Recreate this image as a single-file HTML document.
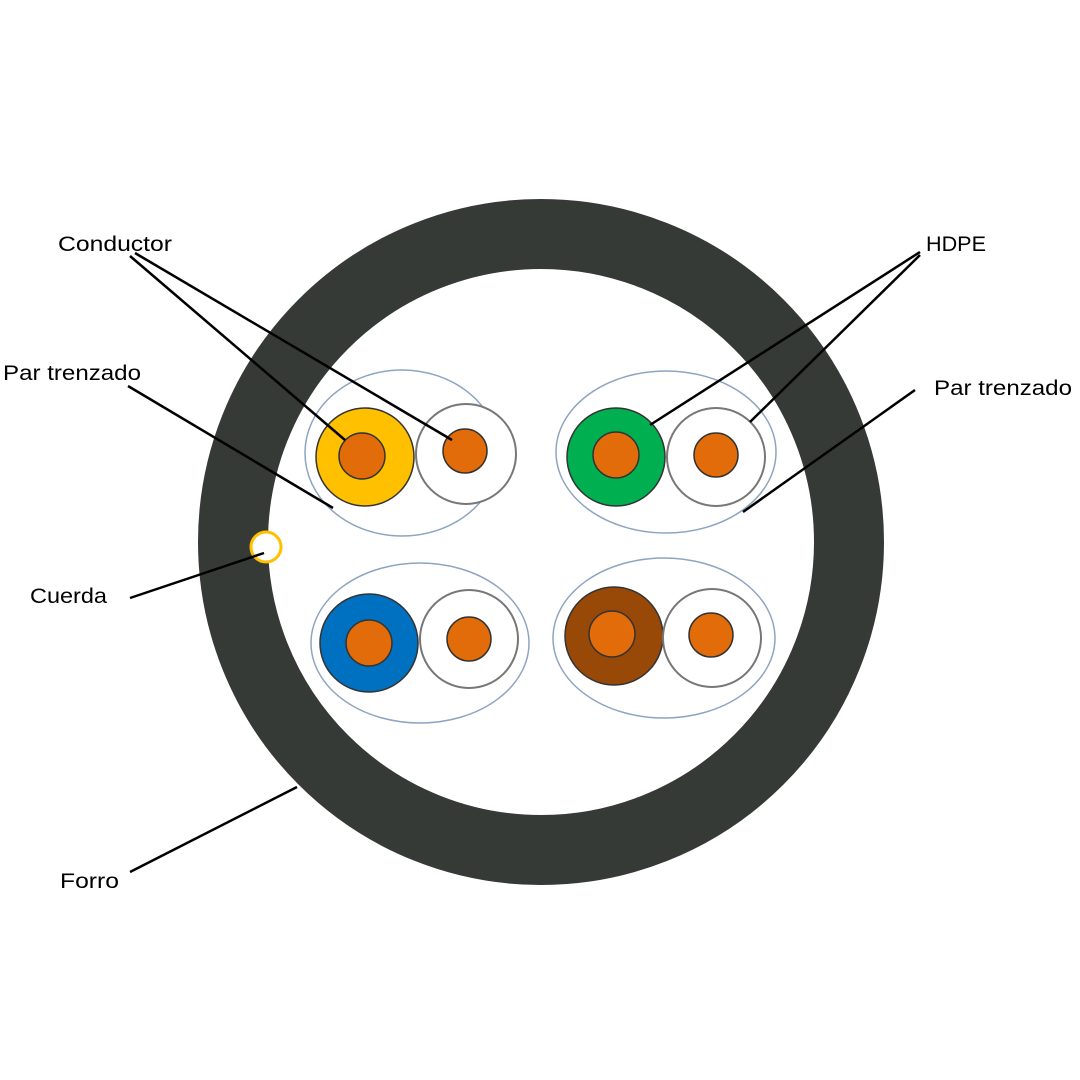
<!DOCTYPE html>
<html><head><meta charset="utf-8"><style>html,body{margin:0;padding:0;background:#fff}svg{display:block}</style></head>
<body>
<svg width="1080" height="1080" viewBox="0 0 1080 1080" xmlns="http://www.w3.org/2000/svg">
<rect width="1080" height="1080" fill="#fff"/>
<circle cx="541" cy="542" r="308" fill="none" stroke="#353a36" stroke-width="70"/>
<g fill="none" stroke="#8ea4c0" stroke-width="1.5">
<ellipse cx="402" cy="453" rx="97" ry="83"/>
<ellipse cx="666" cy="452" rx="110" ry="81"/>
<ellipse cx="420" cy="643" rx="109" ry="80"/>
<ellipse cx="664" cy="638" rx="111" ry="80"/>
</g>
<g stroke="#333" stroke-width="1.5">
<circle cx="365" cy="457" r="49" fill="#ffc000"/>
<circle cx="362" cy="456" r="23" fill="#e36c0a"/>
<circle cx="466" cy="454" r="50" fill="#fff" stroke="#777" stroke-width="2"/>
<circle cx="465" cy="451" r="22" fill="#e36c0a"/>
<circle cx="616" cy="457" r="49" fill="#00b050"/>
<circle cx="616" cy="455" r="23" fill="#e36c0a"/>
<circle cx="716" cy="457" r="49" fill="#fff" stroke="#777" stroke-width="2"/>
<circle cx="716" cy="455" r="22" fill="#e36c0a"/>
<circle cx="369" cy="643" r="49" fill="#0070c0"/>
<circle cx="369" cy="643" r="23" fill="#e36c0a"/>
<circle cx="469" cy="639" r="49" fill="#fff" stroke="#777" stroke-width="2"/>
<circle cx="469" cy="639" r="22" fill="#e36c0a"/>
<circle cx="614" cy="636" r="49" fill="#984807"/>
<circle cx="612" cy="634" r="23" fill="#e36c0a"/>
<circle cx="712" cy="638" r="49" fill="#fff" stroke="#777" stroke-width="2"/>
<circle cx="711" cy="635" r="22" fill="#e36c0a"/>
</g>
<circle cx="266" cy="547" r="15" fill="#fff" stroke="#ffc000" stroke-width="3"/>
<g stroke="#000" stroke-width="2.5" fill="none">
<line x1="130" y1="256" x2="345" y2="440"/>
<line x1="135" y1="253" x2="452" y2="440"/>
<line x1="920" y1="252" x2="650" y2="425"/>
<line x1="920" y1="255" x2="750" y2="422"/>
<line x1="128" y1="386" x2="333" y2="508"/>
<line x1="915" y1="390" x2="743" y2="512"/>
<line x1="130" y1="598" x2="264" y2="553"/>
<line x1="130" y1="872" x2="297" y2="787"/>
</g>
<g font-family="Liberation Sans, sans-serif" font-size="21" fill="#000">
<text x="58" y="251" textLength="114" lengthAdjust="spacingAndGlyphs">Conductor</text>
<text x="926" y="251" textLength="60" lengthAdjust="spacingAndGlyphs">HDPE</text>
<text x="3" y="380" textLength="138" lengthAdjust="spacingAndGlyphs">Par trenzado</text>
<text x="934" y="395" textLength="138" lengthAdjust="spacingAndGlyphs">Par trenzado</text>
<text x="30" y="603" textLength="77" lengthAdjust="spacingAndGlyphs">Cuerda</text>
<text x="60" y="888" textLength="59" lengthAdjust="spacingAndGlyphs">Forro</text>
</g>
</svg>
</body></html>
